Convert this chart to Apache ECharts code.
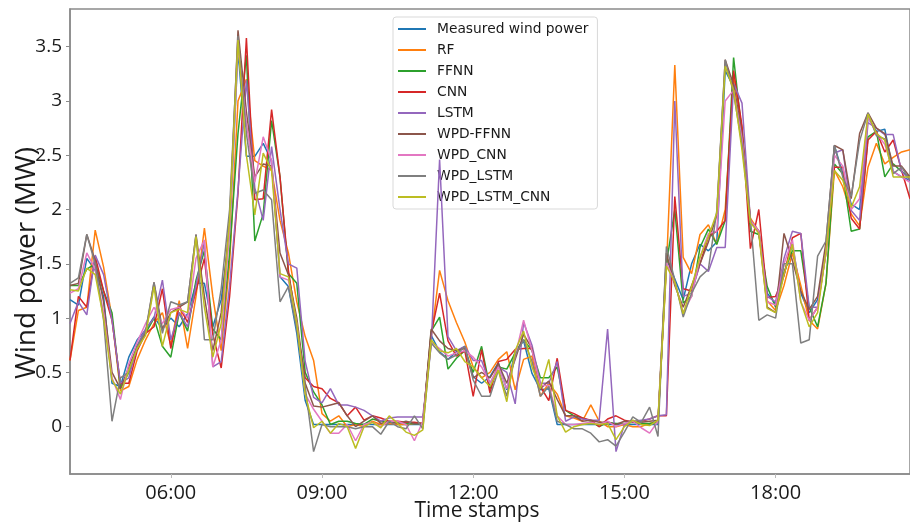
<!DOCTYPE html>
<html><head><meta charset="utf-8">
<script src="https://cdn.jsdelivr.net/npm/echarts@6/dist/echarts.min.js"></script>
<style>html,body{margin:0;padding:0;background:#fff}#c{width:910px;height:528px}</style>
</head><body><div id="c"></div>
<script>
// Time stamps: 10-minute steps from 04:00 to 20:40
const times = [];
for (let m = 240; m <= 1240; m += 10) {
  times.push(String(Math.floor(m / 60)).padStart(2, '0') + ':' + String(m % 60).padStart(2, '0'));
}
const xTickLabels = ['06:00', '09:00', '12:00', '15:00', '18:00'];
const yTickValues = [0, 0.5, 1, 1.5, 2, 2.5, 3, 3.5];
const yTickLabels = ['0', '0.5', '1', '1.5', '2', '2.5', '3', '3.5'];

const seriesNames = ['Measured wind power', 'RF', 'FFNN', 'CNN', 'LSTM', 'WPD-FFNN', 'WPD_CNN', 'WPD_LSTM', 'WPD_LSTM_CNN'];

const measured = [
1.17,1.12,1.55,1.44,1.20,0.40,0.37,0.64,0.80,0.89,
1.01,0.90,1.00,0.92,1.04,1.32,1.32,0.92,1.17,1.78,
3.47,2.49,2.49,2.61,2.45,1.38,1.29,0.86,0.24,0.02,
0.02,0.02,0.02,0.02,0.02,0.02,0.02,0.02,0.02,0.02,
0.02,0.02,0.02,0.84,0.69,0.62,0.69,0.74,0.46,0.40,
0.46,0.59,0.34,0.70,0.79,0.49,0.34,0.35,0.02,0.02,
0.02,0.02,0.02,0.02,0.02,0.02,0.02,0.02,0.02,0.02,
0.02,1.55,1.36,1.17,1.50,1.68,1.62,1.70,3.28,3.13,
2.70,1.90,1.80,1.23,1.13,1.40,1.68,1.23,1.05,1.17,
1.62,2.59,2.33,2.05,2.00,2.85,2.72,2.74,2.35,2.30,2.27];

const rf = [
0.61,1.07,1.10,1.81,1.47,1.00,0.33,0.37,0.62,0.80,
0.95,1.05,0.75,1.16,0.72,1.20,1.83,1.20,0.70,1.50,
3.00,3.20,2.45,2.40,2.36,1.90,1.60,1.15,0.83,0.61,
0.12,0.05,0.10,0.00,0.02,0.00,0.05,0.02,0.03,0.02,
0.02,0.03,0.03,0.82,1.44,1.16,0.96,0.78,0.55,0.45,
0.50,0.62,0.69,0.34,0.62,0.65,0.28,0.40,0.30,0.10,
0.08,0.05,0.20,0.05,0.00,0.00,0.02,0.00,0.00,0.03,
0.05,1.45,3.33,1.56,1.41,1.77,1.86,1.68,2.00,3.22,
2.75,1.92,1.80,1.16,1.07,1.30,1.60,1.30,0.98,0.90,
1.32,2.36,2.21,1.96,1.85,2.39,2.61,2.42,2.48,2.53,2.55];

const ffnn = [
1.30,1.30,1.45,1.50,1.25,1.05,0.35,0.50,0.72,0.86,
1.00,0.74,0.64,1.05,0.88,1.35,1.62,0.90,0.80,1.60,
2.70,3.42,1.71,1.96,2.82,2.30,1.41,1.32,0.50,0.32,
0.20,0.02,0.05,0.05,0.03,0.02,0.07,0.05,0.04,0.04,
0.03,0.03,0.03,0.88,1.01,0.53,0.63,0.70,0.50,0.74,
0.35,0.55,0.53,0.68,0.80,0.70,0.45,0.45,0.55,0.15,
0.10,0.08,0.05,0.00,0.04,0.03,0.03,0.04,0.03,0.03,
0.04,1.50,2.00,1.14,1.20,1.65,1.82,1.68,1.90,3.40,
2.70,1.80,1.77,1.29,1.10,1.42,1.62,1.62,1.10,0.92,
1.32,2.42,2.33,1.80,1.82,2.67,2.72,2.30,2.42,2.35,2.30];

const cnn = [
0.61,1.20,1.10,1.57,1.25,0.98,0.40,0.40,0.70,0.86,
0.92,1.27,0.72,1.11,0.96,1.25,1.55,0.85,0.54,1.20,
2.15,3.58,2.09,2.10,2.92,2.30,1.44,0.92,0.45,0.37,
0.35,0.26,0.22,0.10,0.18,0.06,0.10,0.08,0.05,0.05,
0.04,0.04,0.03,0.86,1.23,0.79,0.65,0.70,0.28,0.71,
0.31,0.60,0.62,0.71,0.72,0.72,0.37,0.24,0.63,0.15,
0.12,0.08,0.06,0.00,0.07,0.10,0.06,0.04,0.05,0.07,
0.10,0.10,2.12,1.27,1.25,1.50,1.75,1.80,1.90,3.28,
2.77,1.64,2.00,1.19,1.20,1.39,1.74,1.78,0.98,1.10,
1.60,2.39,2.39,1.92,1.82,2.64,2.72,2.53,2.64,2.36,2.10];

const lstm = [
0.95,1.15,1.03,1.58,1.40,0.98,0.40,0.45,0.75,0.90,
1.00,1.35,0.80,1.05,0.92,1.30,1.70,0.55,0.60,1.30,
2.18,3.19,2.20,1.90,2.58,2.00,1.50,1.46,0.60,0.27,
0.22,0.35,0.20,0.20,0.18,0.15,0.10,0.05,0.08,0.09,
0.09,0.09,0.09,0.75,2.46,0.83,0.70,0.74,0.61,0.61,
0.40,0.55,0.50,0.21,0.96,0.75,0.40,0.40,0.60,0.05,
0.09,0.07,0.06,0.06,0.90,-0.23,0.02,0.05,0.06,0.07,
0.10,0.11,3.00,1.20,1.23,1.50,1.43,1.65,1.65,3.16,
2.98,1.90,1.80,1.20,1.15,1.55,1.80,1.78,1.10,1.10,
1.62,2.52,2.55,1.99,1.90,2.80,2.75,2.69,2.69,2.35,2.27];

const wpdFfnn = [
1.30,1.32,1.77,1.53,1.15,0.50,0.35,0.55,0.74,0.86,
1.33,0.90,1.05,1.10,1.15,1.77,1.20,0.70,1.05,1.90,
3.65,2.90,2.30,2.42,2.40,1.60,1.40,1.00,0.40,0.19,
0.18,0.20,0.22,0.10,0.00,0.05,0.10,0.03,0.05,0.03,
0.05,0.03,0.03,0.90,0.79,0.72,0.70,0.72,0.45,0.50,
0.45,0.58,0.40,0.62,0.85,0.72,0.35,0.42,0.25,0.10,
0.10,0.05,0.06,0.04,0.04,0.02,0.05,0.05,0.04,0.05,
0.06,1.60,1.30,1.10,1.30,1.50,1.70,1.95,3.38,3.15,
2.70,1.88,1.80,1.10,1.05,1.78,1.53,1.25,1.08,1.20,
1.70,2.59,2.55,2.10,2.70,2.89,2.75,2.70,2.40,2.40,2.30];

const wpdCnn = [
1.23,1.27,1.60,1.45,1.05,0.45,0.25,0.58,0.78,0.95,
1.10,0.95,1.08,1.10,1.00,1.55,1.72,0.55,0.80,1.80,
3.50,2.80,2.25,2.67,2.45,1.38,1.35,0.95,0.30,0.16,
0.05,-0.06,-0.06,0.02,-0.13,0.02,0.04,0.00,0.05,0.05,
0.02,-0.13,0.05,0.78,0.72,0.65,0.68,0.70,0.64,0.55,
0.40,0.55,0.35,0.65,0.98,0.70,0.38,0.38,0.10,0.02,
0.02,0.03,0.04,0.02,0.05,0.00,0.03,0.05,-0.01,-0.06,
0.05,1.51,1.33,1.05,1.20,1.56,1.78,1.80,3.00,3.10,
2.65,1.90,1.80,1.15,1.12,1.50,1.72,1.15,0.98,1.10,
1.60,2.50,2.40,2.00,2.10,2.85,2.70,2.60,2.35,2.30,2.25];

const wpdLstm = [
1.32,1.37,1.77,1.50,0.98,0.05,0.45,0.50,0.74,0.88,
1.33,0.86,1.15,1.12,1.15,1.77,0.80,0.80,1.27,2.00,
3.60,2.70,2.15,2.18,2.09,1.15,1.29,0.90,0.37,-0.23,
0.02,0.00,0.00,0.00,-0.02,0.00,0.00,-0.07,0.05,0.00,
-0.02,0.10,-0.02,0.77,0.68,0.62,0.66,0.74,0.43,0.28,
0.28,0.52,0.28,0.66,0.80,0.60,0.28,0.37,0.05,0.02,
-0.02,-0.02,-0.06,-0.14,-0.12,-0.18,-0.05,0.09,0.04,0.18,
-0.09,1.66,1.35,1.01,1.23,1.38,1.45,1.99,3.38,3.07,
2.60,1.92,0.98,1.03,1.00,1.50,1.50,0.77,0.80,1.57,
1.71,2.59,2.30,2.12,2.63,2.89,2.68,2.65,2.33,2.39,2.27];

const wpdLstmCnn = [
1.26,1.25,1.46,1.40,1.00,0.43,0.30,0.52,0.72,0.84,
1.29,0.74,1.05,1.08,1.05,1.75,1.10,0.64,0.95,1.90,
3.56,2.50,1.95,2.52,2.36,1.41,1.38,0.95,0.30,-0.01,
0.05,-0.06,0.03,0.00,-0.20,0.00,0.04,-0.01,0.10,0.03,
-0.05,-0.08,-0.03,0.80,0.70,0.68,0.72,0.60,0.55,0.45,
0.37,0.52,0.23,0.70,0.88,0.55,0.35,0.62,0.10,-0.05,
0.00,0.02,0.03,0.02,0.03,-0.12,0.00,0.06,0.02,0.01,
0.06,1.48,1.33,1.04,1.29,1.56,1.75,1.97,3.32,3.10,
2.55,1.88,1.78,1.09,1.05,1.40,1.68,1.15,0.92,1.05,
1.62,2.36,2.27,2.02,2.21,2.88,2.70,2.64,2.30,2.30,2.30];

const seriesData = [measured, rf, ffnn, cnn, lstm, wpdFfnn, wpdCnn, wpdLstm, wpdLstmCnn];
const colors = ['#1f77b4', '#ff7f0e', '#2ca02c', '#d62728', '#9467bd', '#8c564b', '#e377c2', '#7f7f7f', '#bcbd22'];

const tickFont = "'Open Sans', 'DejaVu Sans', sans-serif";
const axisColor = '#8a8a8a';

const chart = echarts.init(document.getElementById('c'), null, { renderer: 'canvas' });
chart.setOption({
  animation: false,
  color: colors,
  grid: { left: 70, right: -2, top: 9, bottom: 54, show: true, borderColor: axisColor, borderWidth: 1.5, backgroundColor: 'transparent' },
  legend: {
    orient: 'vertical', left: 393, top: 17,
    data: seriesNames,
    icon: 'rect', itemWidth: 28, itemHeight: 2, itemGap: 7,
    padding: [5, 9, 5, 5],
    backgroundColor: '#ffffff', borderColor: '#d9d9d9', borderWidth: 1, borderRadius: 3,
    textStyle: { fontFamily: "'DejaVu Sans', sans-serif", fontSize: 13.8, color: '#1a1a1a', lineHeight: 14, padding: [0, 0, 0, 6] }
  },
  xAxis: {
    type: 'category', data: times, boundaryGap: false,
    axisLine: { show: true, onZero: false, lineStyle: { color: axisColor, width: 1.5 } },
    axisTick: { show: true, length: 4, lineStyle: { color: '#bbbbbb' }, interval: (i, v) => xTickLabels.includes(v) },
    axisLabel: { interval: (i, v) => xTickLabels.includes(v), margin: 9, fontFamily: tickFont, fontSize: 20, color: '#1a1a1a' },
    splitLine: { show: false }
  },
  yAxis: {
    type: 'value', min: -0.436, max: 3.847,
    axisLine: { show: true, lineStyle: { color: axisColor, width: 1.5 } },
    axisTick: { show: true, length: 4, lineStyle: { color: axisColor }, customValues: yTickValues },
    axisLabel: { customValues: yTickValues, formatter: v => yTickLabels[yTickValues.indexOf(v)] ?? '', margin: 8, fontFamily: tickFont, fontSize: 19, color: '#1a1a1a' },
    splitLine: { show: false }
  },
  graphic: [
    { type: 'text', x: 477, y: 511, style: { text: 'Time stamps', font: "21px 'Open Sans', sans-serif", fill: '#1a1a1a', textAlign: 'center', textVerticalAlign: 'middle' } },
    { type: 'text', x: 27, y: 263, rotation: Math.PI / 2, style: { text: 'Wind power (MW)', font: "28px 'Open Sans', sans-serif", fill: '#1a1a1a', textAlign: 'center', textVerticalAlign: 'middle' } }
  ],
  series: seriesNames.map((name, k) => ({
    name, type: 'line', data: seriesData[k], showSymbol: false, symbol: 'none',
    lineStyle: { width: 1.5, color: colors[k] }, itemStyle: { color: colors[k] }, z: 2 + k
  }))
});
</script>
</body></html>
